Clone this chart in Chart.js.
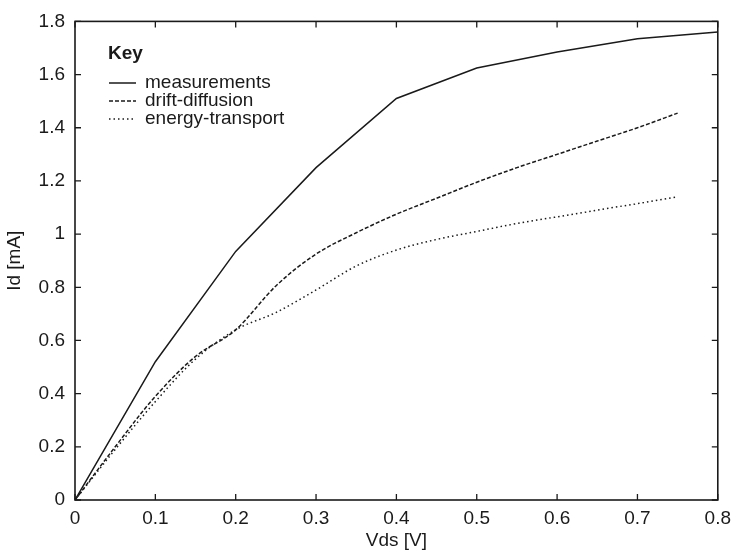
<!DOCTYPE html>
<html lang="en">
<head>
    <meta charset="UTF-8">
    <title>Id vs Vds</title>
    <script src="https://cdn.jsdelivr.net/npm/chart.js"></script>
    <style>
        body {
            margin: 0;
            padding: 0;
            background-color: #fff;
        }
        .wrap {
            position: relative;
            width: 738px;
            height: 556px;
        }
    </style>
</head>
<body>
    <div class="wrap">
        <canvas id="ivChart"></canvas>
    </div>

    <script>
        // values
        const measX = [0, 0.1, 0.2, 0.3, 0.4, 0.5, 0.6, 0.7, 0.8];
        const measured = [0, 0.52, 0.935, 1.25, 1.51, 1.625, 1.685, 1.735, 1.76];

        const simX = [0, 0.05, 0.1, 0.15, 0.2, 0.25, 0.3, 0.35, 0.4, 0.45, 0.5, 0.55, 0.6, 0.65, 0.7, 0.75];
        const driftDiffusion = [0, 0.2, 0.39, 0.54, 0.64, 0.805, 0.925, 1.005, 1.075, 1.135, 1.195, 1.25, 1.3, 1.35, 1.4, 1.455];
        const energyTransport = [0, 0.19, 0.37, 0.53, 0.64, 0.705, 0.79, 0.88, 0.94, 0.98, 1.01, 1.04, 1.065, 1.09, 1.115, 1.14];

        const seriesNames = ['measurements', 'drift-diffusion', 'energy-transport'];
        const xTitle = 'Vds [V]';
        const yTitle = 'Id [mA]';

        const FONT = '"Liberation Sans", Arial, sans-serif';
        const INK = '#1a1a1a';

        function toPoints(xs, ys) {
            return xs.map((x, i) => ({ x: x, y: ys[i] }));
        }

        // frame, inward ticks on all four sides, axis titles
        const framePlugin = {
            id: 'frame',
            afterDraw(chart) {
                const ctx = chart.ctx;
                const a = chart.chartArea;
                const xs = chart.scales.x;
                const ys = chart.scales.y;
                const len = 6;
                ctx.save();
                ctx.strokeStyle = INK;
                ctx.lineWidth = 1.6;
                ctx.strokeRect(a.left, a.top, a.right - a.left, a.bottom - a.top);
                ctx.lineWidth = 1.3;
                ctx.beginPath();
                xs.ticks.forEach(t => {
                    const px = xs.getPixelForValue(t.value);
                    ctx.moveTo(px, a.bottom); ctx.lineTo(px, a.bottom - len);
                    ctx.moveTo(px, a.top); ctx.lineTo(px, a.top + len);
                });
                ys.ticks.forEach(t => {
                    const py = ys.getPixelForValue(t.value);
                    ctx.moveTo(a.left, py); ctx.lineTo(a.left + len, py);
                    ctx.moveTo(a.right, py); ctx.lineTo(a.right - len, py);
                });
                ctx.stroke();

                ctx.fillStyle = INK;
                ctx.font = '19px ' + FONT;
                ctx.textAlign = 'center';
                ctx.textBaseline = 'middle';
                ctx.fillText(xTitle, (a.left + a.right) / 2, 541);
                ctx.translate(15, (a.top + a.bottom) / 2);
                ctx.rotate(-Math.PI / 2);
                ctx.fillText(yTitle, 0, 0);
                ctx.restore();
            }
        };

        // "Key" box drawn inside the plot
        const keyPlugin = {
            id: 'key',
            afterDraw(chart) {
                const ctx = chart.ctx;
                const x0 = 109, x1 = 136, tx = 145;
                const rows = [83, 101, 119];
                ctx.save();
                ctx.fillStyle = INK;
                ctx.textBaseline = 'middle';
                ctx.textAlign = 'left';
                ctx.font = 'bold 19px ' + FONT;
                ctx.fillText('Key', 108, 54);
                ctx.font = '19px ' + FONT;
                chart.data.datasets.forEach((ds, i) => {
                    const y = rows[i];
                    ctx.strokeStyle = ds.borderColor;
                    ctx.lineWidth = ds.borderWidth;
                    ctx.setLineDash(ds.borderDash || []);
                    ctx.beginPath();
                    ctx.moveTo(x0, y);
                    ctx.lineTo(x1, y);
                    ctx.stroke();
                    ctx.fillText(ds.label, tx, y);
                });
                ctx.restore();
            }
        };

        function tickLabel(v) {
            return String(+Number(v).toFixed(1));
        }

        document.addEventListener('DOMContentLoaded', () => {
            const ctx = document.getElementById('ivChart').getContext('2d');
            new Chart(ctx, {
                type: 'line',
                data: {
                    datasets: [{
                        label: seriesNames[0],
                        data: toPoints(measX, measured),
                        borderColor: INK,
                        borderWidth: 1.5,
                        borderDash: [],
                        pointRadius: 0,
                        tension: 0
                    }, {
                        label: seriesNames[1],
                        data: toPoints(simX, driftDiffusion),
                        borderColor: INK,
                        borderWidth: 1.5,
                        borderDash: [4, 2],
                        pointRadius: 0,
                        cubicInterpolationMode: 'monotone'
                    }, {
                        label: seriesNames[2],
                        data: toPoints(simX, energyTransport),
                        borderColor: INK,
                        borderWidth: 1.5,
                        borderDash: [1.5, 3],
                        pointRadius: 0,
                        cubicInterpolationMode: 'monotone'
                    }]
                },
                options: {
                    responsive: true,
                    maintainAspectRatio: false,
                    animation: false,
                    layout: { padding: { left: 0, top: 16, right: 15, bottom: 0 } },
                    plugins: {
                        legend: { display: false },
                        tooltip: { enabled: false }
                    },
                    scales: {
                        x: {
                            type: 'linear',
                            min: 0,
                            max: 0.8,
                            grid: { display: false, drawTicks: false },
                            border: { display: false },
                            ticks: {
                                stepSize: 0.1,
                                padding: 7,
                                color: INK,
                                maxRotation: 0,
                                font: { family: FONT, size: 19 },
                                callback: tickLabel
                            },
                            afterFit(scale) { scale.height = 56; }
                        },
                        y: {
                            min: 0,
                            max: 1.8,
                            grid: { display: false, drawTicks: false },
                            border: { display: false },
                            ticks: {
                                stepSize: 0.2,
                                padding: 10,
                                color: INK,
                                font: { family: FONT, size: 19 },
                                callback: tickLabel
                            },
                            afterFit(scale) { scale.width = 75; }
                        }
                    }
                },
                plugins: [framePlugin, keyPlugin]
            });
        });
    </script>
</body>
</html>
